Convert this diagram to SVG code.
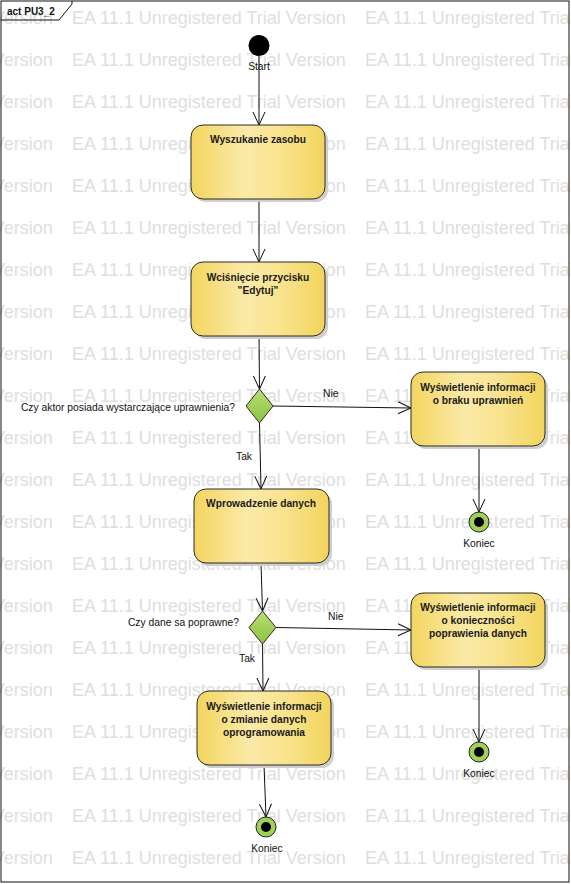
<svg xmlns="http://www.w3.org/2000/svg" xmlns:xlink="http://www.w3.org/1999/xlink" width="571" height="884" viewBox="0 0 571 884">
<style>
.wm{font-family:"Liberation Sans",Arial,sans-serif;font-size:18px;fill:#dedede}
.act{stroke:#2a2a2a;stroke-width:1;fill:url(#actGrad)}
.shadow{fill:#cfcfcf;stroke:none}
.at{font-family:"Liberation Sans",Arial,sans-serif;font-size:10.2px;font-weight:bold;fill:#1a1a1a;text-anchor:middle}
.lbl{font-family:"Liberation Sans",Arial,sans-serif;font-size:10.3px;fill:#111}
.dec{fill:url(#decGrad);stroke:#2a2a2a;stroke-width:1}
.conn{stroke:#111;stroke-width:1;fill:none;marker-end:url(#arr)}
.endo{fill:#9fd158;stroke:#222;stroke-width:1}
</style>
<defs>
<linearGradient id="actGrad" x1="0" y1="0" x2="1" y2="0">
<stop offset="0" stop-color="#f3d55f"/>
<stop offset="0.4" stop-color="#fbeaa8"/>
<stop offset="0.7" stop-color="#f8e28a"/>
<stop offset="1" stop-color="#f2d45c"/>
</linearGradient>
<linearGradient id="decGrad" x1="0" y1="0" x2="0" y2="1">
<stop offset="0" stop-color="#b9dc77"/>
<stop offset="1" stop-color="#8cc43e"/>
</linearGradient>
<marker id="arr" markerUnits="userSpaceOnUse" markerWidth="16" markerHeight="16" viewBox="-14 -8 16 16" refX="0" refY="0" orient="auto">
<path d="M-13,-6 L0,0 L-13,6" fill="none" stroke="#111" stroke-width="1"/>
</marker>
<g id="wmrow">
<text class="wm" x="-221" y="0">EA 11.1 Unregistered Trial Version</text>
<text class="wm" x="72" y="0">EA 11.1 Unregistered Trial Version</text>
<text class="wm" x="365" y="0">EA 11.1 Unregistered Trial Version</text>
</g>
</defs>
<rect x="0" y="0" width="571" height="884" fill="#ffffff"/>
<g id="watermark">
<use xlink:href="#wmrow" y="24"/><use xlink:href="#wmrow" y="66"/><use xlink:href="#wmrow" y="108"/>
<use xlink:href="#wmrow" y="150"/><use xlink:href="#wmrow" y="192"/><use xlink:href="#wmrow" y="234"/>
<use xlink:href="#wmrow" y="276"/><use xlink:href="#wmrow" y="318"/><use xlink:href="#wmrow" y="360"/>
<use xlink:href="#wmrow" y="402"/><use xlink:href="#wmrow" y="444"/><use xlink:href="#wmrow" y="486"/>
<use xlink:href="#wmrow" y="528"/><use xlink:href="#wmrow" y="570"/><use xlink:href="#wmrow" y="612"/>
<use xlink:href="#wmrow" y="654"/><use xlink:href="#wmrow" y="696"/><use xlink:href="#wmrow" y="738"/>
<use xlink:href="#wmrow" y="780"/><use xlink:href="#wmrow" y="822"/><use xlink:href="#wmrow" y="864"/>
</g>
<g id="frame">
<rect x="1" y="1" width="568" height="881" fill="none" stroke="#111" stroke-width="1"/>
<polyline points="1,20 59,20 72,4 72,1" fill="none" stroke="#111" stroke-width="1"/>
<text x="7" y="15" font-family="Liberation Sans,Arial,sans-serif" font-size="10px" font-weight="bold" fill="#111">act PU3_2</text>
</g>
<g id="connectors">
<line class="conn" x1="259" y1="56" x2="259" y2="125"/>
<line class="conn" x1="259" y1="199" x2="259" y2="262"/>
<line class="conn" x1="259" y1="336" x2="259.5" y2="389"/>
<line class="conn" x1="273" y1="406" x2="411" y2="408"/>
<line class="conn" x1="259.5" y1="423" x2="261" y2="489"/>
<line class="conn" x1="479" y1="446" x2="479" y2="512"/>
<line class="conn" x1="261" y1="563" x2="262.5" y2="611"/>
<line class="conn" x1="276" y1="627.5" x2="411" y2="630"/>
<line class="conn" x1="262.5" y1="644" x2="263" y2="691"/>
<line class="conn" x1="479" y1="667" x2="479" y2="742"/>
<line class="conn" x1="264" y1="765" x2="266" y2="817"/>
<text class="lbl" x="323" y="397">Nie</text>
<text class="lbl" x="236" y="460">Tak</text>
<text class="lbl" x="328" y="620">Nie</text>
<text class="lbl" x="239" y="662">Tak</text>
</g>
<g id="start">
<circle cx="259" cy="45.5" r="10.5" fill="#000"/>
<text class="lbl" x="259" y="70" text-anchor="middle">Start</text>
</g>
<g id="a1">
<rect class="shadow" x="194" y="128" width="134" height="74" rx="12"/>
<rect class="act" x="191" y="125" width="134" height="74" rx="12"/>
<text class="at" x="258" y="142.5">Wyszukanie zasobu</text>
</g>
<g id="a2">
<rect class="shadow" x="194" y="265" width="134" height="74" rx="12"/>
<rect class="act" x="191" y="262" width="134" height="74" rx="12"/>
<text class="at" x="258" y="280.5">Wciśnięcie przycisku</text>
<text class="at" x="258" y="293.5">"Edytuj"</text>
</g>
<g id="d1">
<polygon class="dec" points="259.5,389 273,406 259.5,423 246,406"/>
<text class="lbl" x="235" y="411" text-anchor="end">Czy aktor posiada wystarczające uprawnienia?</text>
</g>
<g id="a3">
<rect class="shadow" x="414" y="375" width="134" height="74" rx="12"/>
<rect class="act" x="411" y="372" width="134" height="74" rx="12"/>
<text class="at" x="478" y="390.5">Wyświetlenie informacji</text>
<text class="at" x="478" y="403.5">o braku uprawnień</text>
</g>
<g id="e1">
<circle class="endo" cx="479" cy="522" r="10"/>
<circle cx="479" cy="522" r="5" fill="#000"/>
<text class="lbl" x="479" y="547" text-anchor="middle">Koniec</text>
</g>
<g id="a4">
<rect class="shadow" x="197" y="492" width="135" height="74" rx="12"/>
<rect class="act" x="194" y="489" width="135" height="74" rx="12"/>
<text class="at" x="261" y="506.5">Wprowadzenie danych</text>
</g>
<g id="d2">
<polygon class="dec" points="262.5,611 276,627.5 262.5,644 249,627.5"/>
<text class="lbl" x="239" y="626" text-anchor="end">Czy dane sa poprawne?</text>
</g>
<g id="a5">
<rect class="shadow" x="414" y="596" width="134" height="74" rx="12"/>
<rect class="act" x="411" y="593" width="134" height="74" rx="12"/>
<text class="at" x="478" y="610.5">Wyświetlenie informacji</text>
<text class="at" x="478" y="623.5">o konieczności</text>
<text class="at" x="478" y="636.5">poprawienia danych</text>
</g>
<g id="e2">
<circle class="endo" cx="479" cy="752" r="10"/>
<circle cx="479" cy="752" r="5" fill="#000"/>
<text class="lbl" x="479" y="777" text-anchor="middle">Koniec</text>
</g>
<g id="a6">
<rect class="shadow" x="200" y="694" width="134" height="74" rx="12"/>
<rect class="act" x="197" y="691" width="134" height="74" rx="12"/>
<text class="at" x="264" y="709.5">Wyświetlenie informacji</text>
<text class="at" x="264" y="722.5">o zmianie danych</text>
<text class="at" x="264" y="735.5">oprogramowania</text>
</g>
<g id="e3">
<circle class="endo" cx="266" cy="827" r="10"/>
<circle cx="266" cy="827" r="5" fill="#000"/>
<text class="lbl" x="267" y="852" text-anchor="middle">Koniec</text>
</g>
</svg>
